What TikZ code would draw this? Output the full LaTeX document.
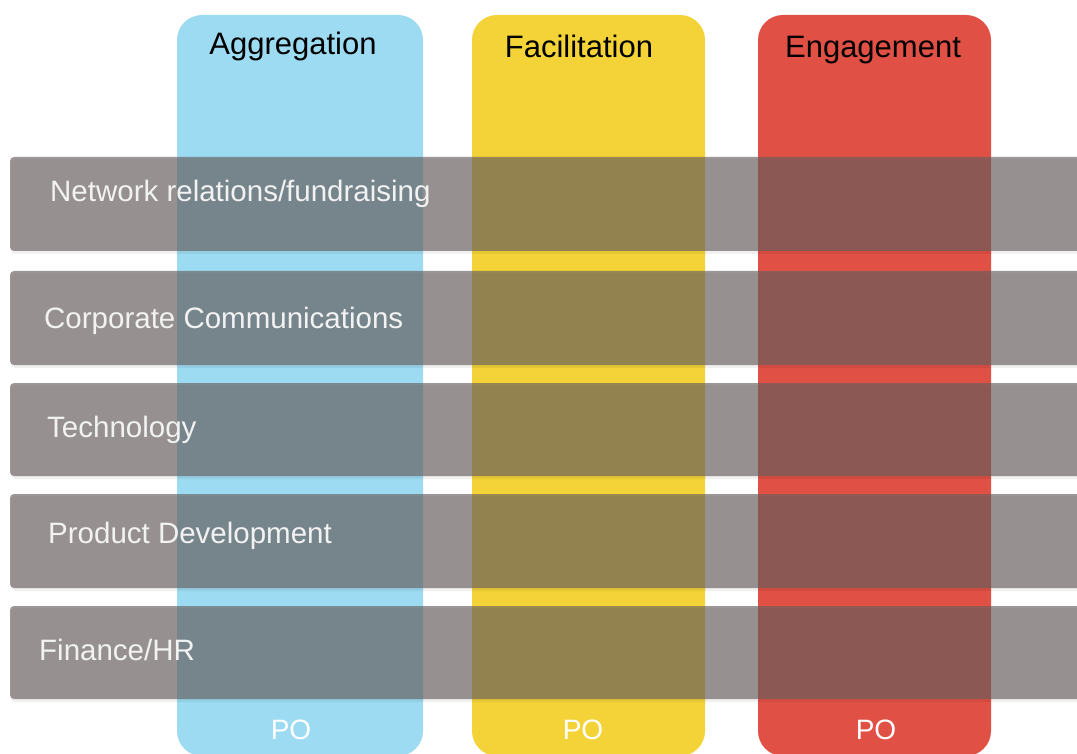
\documentclass[tikz,border=0pt]{standalone}
\usepackage{fontspec}
\setmainfont{Liberation Sans}
\definecolor{colblue}{RGB}{157,219,242}
\definecolor{colyellow}{RGB}{244,211,56}
\definecolor{colred}{RGB}{225,80,68}
\definecolor{bandgray}{RGB}{103,95,94}
\definecolor{bandtext}{RGB}{242,242,242}
\tikzset{
  column/.style={rounded corners=25pt},
  band/.style={fill=bandgray, fill opacity=0.65, rounded corners=4pt},
  bandshadow/.style={fill=black, fill opacity=0.06, rounded corners=4pt},
  head/.style={anchor=base, inner sep=0pt, font=\fontsize{31}{36}\selectfont, text=black},
  lab/.style={anchor=base west, inner sep=0pt, font=\fontsize{29.5}{34}\selectfont, text=bandtext},
  po/.style={anchor=base, inner sep=0pt, font=\fontsize{28}{32}\selectfont, text=white}
}
\begin{document}
\begin{tikzpicture}[x=1pt,y=-1pt]
\useasboundingbox (0,0) rectangle (1077,754);
\fill[white] (0,0) rectangle (1077,754);
% columns
\fill[colblue, column] (177,15) rectangle (423,756);
\fill[colyellow, column] (472,15) rectangle (705,756);
\fill[colred, column] (758,15) rectangle (991,756);
% headers
\node[head] (hagg) at (293,55) {Aggregation};
\node[head] (hfac) at (579,58) {Facilitation};
\node[head] (heng) at (873,58) {Engagement};
% PO labels
\node[po] (po1) at (291,739) {PO};
\node[po] (po2) at (583,739) {PO};
\node[po] (po3) at (876,739) {PO};
% bands
\foreach \t/\b in {157/251, 271/365, 383/476, 494/588, 606/699}{
  \fill[bandshadow] (11,\t+2) rectangle (1095,\b+3);
  \fill[band] (10,\t) rectangle (1095,\b);
}
% band labels
\node[lab] (l1) at (50,202) {Network relations/fundraising};
\node[lab] (l2) at (44,328) {Corporate Communications};
\node[lab] (l3) at (47,437) {Technology};
\node[lab] (l4) at (48,543) {Product Development};
\node[lab] (l5) at (39,660) {Finance/HR};
\end{tikzpicture}
\end{document}
